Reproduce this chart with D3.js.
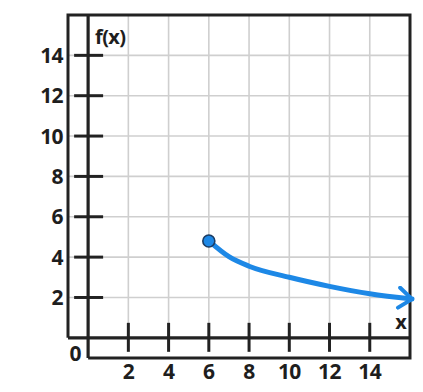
<!DOCTYPE html>
<html>
<head>
<meta charset="utf-8">
<script src="https://cdn.jsdelivr.net/npm/d3@7"></script>
<style>
  body { margin: 0; background: #fff; }
  text { font-family: "Open Sans", Lato, sans-serif; font-weight: bold; fill: #1e1e1e; }
</style>
</head>
<body>
<div id="container"></div>
<script>
/**
 * CONSTANTS AND GLOBALS
 * */
const width = 423,
  height = 392;

// chart values
const xTicks = [2, 4, 6, 8, 10, 12, 14];
const yTicks = [2, 4, 6, 8, 10, 12, 14];
const curveX = [6, 7, 8, 10, 12, 14, 16.1];
const curveY = [4.8, 4.02, 3.55, 3.0, 2.55, 2.18, 1.92];
const startPoint = [6, 4.8];

const ink = "#222",
  blue = "#1d88e6";

const svg = d3.select("#container")
  .append("svg")
  .attr("width", width)
  .attr("height", height);

// frame runs from -1 to 16 on both axes
const x = d3.scaleLinear().domain([-1, 16]).range([68, 410]);
const y = d3.scaleLinear().domain([-1, 16]).range([358, 15]);

// grid
svg.append("g")
  .selectAll("line")
  .data(xTicks)
  .join("line")
  .attr("x1", d => x(d)).attr("x2", d => x(d))
  .attr("y1", y(16)).attr("y2", y(0))
  .attr("stroke", "#cfcfcf")
  .attr("stroke-width", 1.6);

svg.append("g")
  .selectAll("line")
  .data(yTicks)
  .join("line")
  .attr("x1", x(-1)).attr("x2", x(16))
  .attr("y1", d => y(d)).attr("y2", d => y(d))
  .attr("stroke", "#cfcfcf")
  .attr("stroke-width", 1.6);

// outer frame, bottom-left corner cut away
const frame = [[-1, 0], [-1, 16], [16, 16], [16, -1], [0, -1]];
svg.append("path")
  .attr("d", d3.line().x(d => x(d[0])).y(d => y(d[1]))(frame))
  .attr("fill", "none")
  .attr("stroke", ink)
  .attr("stroke-width", 3);

// axes
svg.append("line")
  .attr("x1", x(0)).attr("x2", x(0))
  .attr("y1", y(16)).attr("y2", y(-1))
  .attr("stroke", ink).attr("stroke-width", 3.2);
svg.append("line")
  .attr("x1", x(-1)).attr("x2", x(16))
  .attr("y1", y(0)).attr("y2", y(0))
  .attr("stroke", ink).attr("stroke-width", 3.2);

// ticks
svg.append("g")
  .selectAll("line")
  .data(xTicks)
  .join("line")
  .attr("x1", d => x(d)).attr("x2", d => x(d))
  .attr("y1", y(0) - 15).attr("y2", y(0) + 14)
  .attr("stroke", ink).attr("stroke-width", 3);

svg.append("g")
  .selectAll("line")
  .data(yTicks)
  .join("line")
  .attr("x1", x(0) - 14).attr("x2", x(0) + 15)
  .attr("y1", d => y(d)).attr("y2", d => y(d))
  .attr("stroke", ink).attr("stroke-width", 3);

// tick labels
svg.append("g")
  .selectAll("text")
  .data(xTicks)
  .join("text")
  .attr("x", d => x(d))
  .attr("y", 379)
  .attr("text-anchor", "middle")
  .attr("font-size", 21)
  .attr("letter-spacing", -0.6)
  .text(d => d);

svg.append("g")
  .selectAll("text")
  .data(yTicks)
  .join("text")
  .attr("x", 63)
  .attr("y", d => y(d) + 7.5)
  .attr("text-anchor", "end")
  .attr("font-size", 21)
  .attr("letter-spacing", -0.6)
  .text(d => d);

svg.append("text")
  .attr("x", 75.5).attr("y", 361)
  .attr("text-anchor", "middle")
  .attr("font-size", 21)
  .text("0");

svg.append("text")
  .attr("x", 95).attr("y", 44)
  .attr("font-size", 20)
  .attr("letter-spacing", -0.6)
  .text("f(x)");

svg.append("text")
  .attr("x", 401).attr("y", 329)
  .attr("text-anchor", "middle")
  .attr("font-size", 20)
  .text("x");

// arrowhead
svg.append("defs")
  .append("marker")
  .attr("id", "arrow")
  .attr("markerUnits", "userSpaceOnUse")
  .attr("viewBox", "-16 -12 20 24")
  .attr("markerWidth", 20).attr("markerHeight", 24)
  .attr("refX", 0).attr("refY", 0)
  .attr("orient", "auto")
  .append("path")
  .attr("d", "M-13,-10L0,0L-13,10")
  .attr("fill", "none")
  .attr("stroke", blue)
  .attr("stroke-width", 4)
  .attr("stroke-linecap", "round")
  .attr("stroke-linejoin", "round");

// curve
const curveData = curveX.map((v, i) => [v, curveY[i]]);
svg.append("path")
  .datum(curveData)
  .attr("d", d3.line().x(d => x(d[0])).y(d => y(d[1])).curve(d3.curveMonotoneX))
  .attr("fill", "none")
  .attr("stroke", blue)
  .attr("stroke-width", 5)
  .attr("stroke-linecap", "round")
  .attr("marker-end", "url(#arrow)");

// starting point
svg.append("circle")
  .attr("cx", x(startPoint[0]))
  .attr("cy", y(startPoint[1]))
  .attr("r", 6)
  .attr("fill", blue)
  .attr("stroke", "#1b3c63")
  .attr("stroke-width", 1.6);
</script>
</body>
</html>
